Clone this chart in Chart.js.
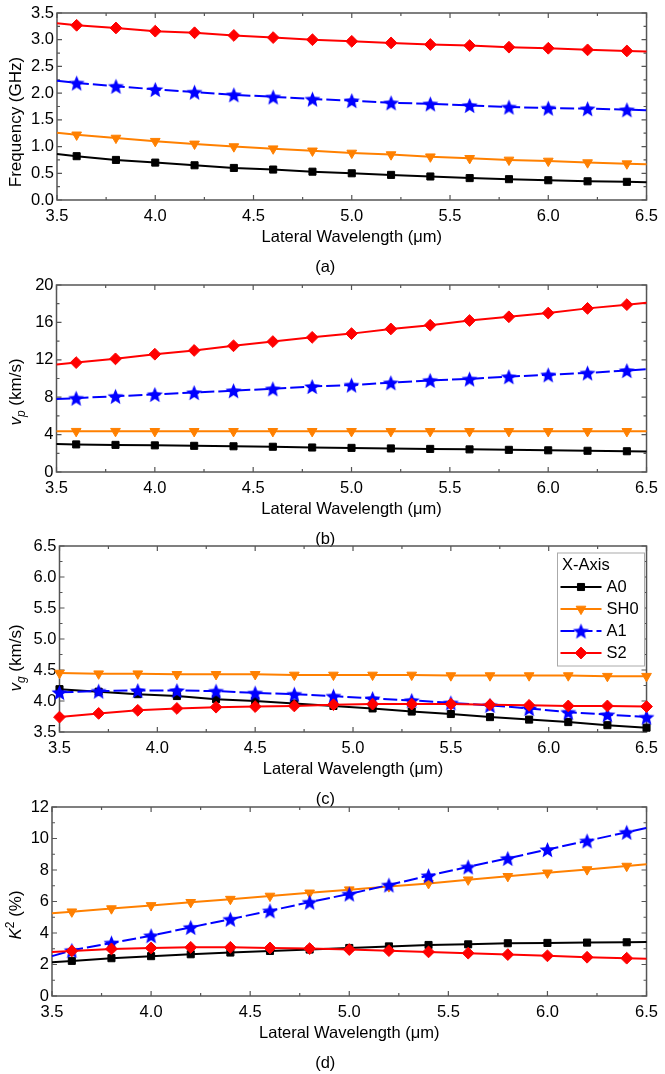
<!DOCTYPE html>
<html><head><meta charset="utf-8">
<script src="https://cdn.jsdelivr.net/npm/chart.js@4.4.1/dist/chart.umd.min.js"></script>
<style>
html,body{margin:0;padding:0;background:#fff;}
body{width:665px;height:1074px;position:relative;overflow:hidden;}
canvas{position:absolute;left:0;}
</style></head><body>
<canvas id="cA"></canvas>
<canvas id="cB"></canvas>
<canvas id="cC"></canvas>
<canvas id="cD"></canvas>
<script>
// ---------------- DATA ----------------
const seriesNames = ['A0', 'SH0', 'A1', 'S2'];
const xMain = [3.5, 3.6, 3.8, 4.0, 4.2, 4.4, 4.6, 4.8, 5.0, 5.2, 5.4, 5.6, 5.8, 6.0, 6.2, 6.4, 6.5];
const xVg   = [3.5, 3.7, 3.9, 4.1, 4.3, 4.5, 4.7, 4.9, 5.1, 5.3, 5.5, 5.7, 5.9, 6.1, 6.3, 6.5];

// (a) Frequency (GHz)
const freqA0  = [0.86, 0.82, 0.75, 0.70, 0.65, 0.60, 0.57, 0.53, 0.50, 0.47, 0.44, 0.41, 0.39, 0.37, 0.35, 0.34, 0.33];
const freqSH0 = [1.26, 1.22, 1.16, 1.10, 1.05, 1.00, 0.96, 0.92, 0.88, 0.85, 0.81, 0.78, 0.75, 0.73, 0.70, 0.68, 0.67];
const freqA1  = [2.23, 2.19, 2.13, 2.07, 2.02, 1.97, 1.93, 1.89, 1.86, 1.82, 1.80, 1.77, 1.74, 1.72, 1.71, 1.69, 1.68];
const freqS2  = [3.31, 3.27, 3.22, 3.16, 3.13, 3.08, 3.04, 3.00, 2.97, 2.94, 2.91, 2.89, 2.86, 2.84, 2.81, 2.79, 2.78];

// (b) Phase velocity (km/s)
const vpA0  = [3.00, 2.95, 2.90, 2.85, 2.80, 2.75, 2.70, 2.62, 2.58, 2.52, 2.47, 2.42, 2.37, 2.32, 2.27, 2.22, 2.20];
const vpSH0 = [4.36, 4.36, 4.36, 4.35, 4.35, 4.35, 4.35, 4.35, 4.35, 4.35, 4.35, 4.35, 4.35, 4.35, 4.35, 4.35, 4.35];
const vpA1  = [7.80, 7.90, 8.10, 8.30, 8.50, 8.70, 8.90, 9.15, 9.30, 9.55, 9.80, 9.95, 10.2, 10.4, 10.6, 10.85, 11.0];
const vpS2  = [11.5, 11.7, 12.1, 12.6, 13.0, 13.5, 13.95, 14.4, 14.8, 15.3, 15.7, 16.2, 16.6, 17.0, 17.5, 17.9, 18.1];

// (c) Group velocity (km/s)
const vgA0  = [4.19, 4.15, 4.11, 4.08, 4.03, 4.00, 3.96, 3.92, 3.88, 3.83, 3.79, 3.74, 3.70, 3.66, 3.61, 3.57];
const vgSH0 = [4.45, 4.44, 4.44, 4.43, 4.43, 4.43, 4.42, 4.42, 4.42, 4.42, 4.41, 4.41, 4.41, 4.41, 4.40, 4.40];
const vgA1  = [4.14, 4.16, 4.17, 4.17, 4.16, 4.13, 4.11, 4.08, 4.04, 4.01, 3.97, 3.93, 3.88, 3.82, 3.78, 3.74];
const vgS2  = [3.74, 3.80, 3.85, 3.88, 3.90, 3.91, 3.92, 3.94, 3.95, 3.95, 3.95, 3.94, 3.93, 3.92, 3.92, 3.91];

// (d) K^2 (%)
const k2A0  = [2.15, 2.23, 2.40, 2.53, 2.65, 2.76, 2.86, 2.95, 3.05, 3.15, 3.24, 3.28, 3.35, 3.37, 3.39, 3.41, 3.43];
const k2SH0 = [5.26, 5.35, 5.55, 5.75, 5.95, 6.15, 6.35, 6.55, 6.75, 6.95, 7.15, 7.38, 7.60, 7.82, 8.03, 8.25, 8.36];
const k2A1  = [2.53, 2.90, 3.37, 3.83, 4.36, 4.88, 5.41, 5.96, 6.48, 7.05, 7.64, 8.20, 8.74, 9.30, 9.85, 10.4, 10.67];
const k2S2  = [2.80, 2.86, 2.99, 3.05, 3.09, 3.09, 3.05, 3.01, 2.95, 2.88, 2.80, 2.72, 2.63, 2.55, 2.46, 2.40, 2.36];

// Axis ranges / ticks
const xRange = [3.5, 6.5], xStep = 0.5;
const yFreqRange = [0, 3.5], yFreqStep = 0.5;
const yVpRange = [0, 20], yVpStep = 4;
const yVgRange = [3.5, 6.5], yVgStep = 0.5;
const yK2Range = [0, 12], yK2Step = 2;
const xTitle = 'Lateral Wavelength (\u03bcm)';
const panelLabels = ['(a)', '(b)', '(c)', '(d)'];
const legendTitle = 'X-Axis';

// ---------------- STYLES ----------------
const FONT = '"Liberation Sans", Arial, Helvetica, sans-serif';
const TXT = 16.5;
function starImage(color, R) {
  const size = Math.ceil(R * 2 + 2);
  const c = document.createElement('canvas');
  c.width = c.height = size;
  const g = c.getContext('2d');
  g.beginPath();
  for (let i = 0; i < 10; i++) {
    const r = i % 2 ? R * 0.44 : R;
    const a = -Math.PI / 2 + i * Math.PI / 5;
    const px = size / 2 + r * Math.cos(a), py = size / 2 + r * Math.sin(a) + R * 0.1;
    if (i) g.lineTo(px, py); else g.moveTo(px, py);
  }
  g.closePath(); g.fillStyle = color; g.fill();
  return c;
}
const STAR = starImage('#0000FF', 8.4);
const seriesStyle = {
  A0:  {color: '#000000', pointStyle: 'rect', radius: 5, rotation: 0, dash: [], order: 4},
  SH0: {color: '#FF8000', pointStyle: 'triangle', radius: 5.6, rotation: 180, dash: [], order: 3},
  A1:  {color: '#0000FF', pointStyle: STAR, radius: 7, rotation: 0, dash: [14, 4], order: 2},
  S2:  {color: '#FF0000', pointStyle: 'rectRot', radius: 5.9, rotation: 0, dash: [], order: 1}
};

function makeDataset(name, xs, ys, hideEnds) {
  const s = seriesStyle[name];
  return {
    label: name,
    data: xs.map((x, i) => ({x: x, y: ys[i]})),
    borderColor: s.color,
    backgroundColor: s.color,
    borderWidth: 2,
    borderDash: s.dash,
    pointStyle: s.pointStyle,
    pointRotation: s.rotation,
    pointRadius: ctx => (hideEnds && ctx.raw && (ctx.raw.x === xRange[0] || ctx.raw.x === xRange[1])) ? 0 : s.radius,
    pointBorderWidth: 1,
    pointBorderColor: s.color,
    pointBackgroundColor: s.color,
    tension: 0,
    clip: false,
    order: s.order
  };
}

// ---------------- PLUGINS ----------------
const framePlugin = {
  id: 'frame',
  beforeDatasetsDraw(chart) {
    const {ctx, chartArea: a, scales: {x, y}} = chart;
    const mid = arr => arr.slice(1).map((v, i) => (v + arr[i]) / 2);
    const xs = x.ticks.map(t => t.value), ys = y.ticks.map(t => t.value);
    ctx.save();
    ctx.strokeStyle = '#555';
    ctx.lineWidth = 1.2;
    ctx.beginPath();
    const hx = (v, len) => { const p = x.getPixelForValue(v); ctx.moveTo(p, a.bottom); ctx.lineTo(p, a.bottom - len); ctx.moveTo(p, a.top); ctx.lineTo(p, a.top + len); };
    const vy = (v, len) => { const p = y.getPixelForValue(v); ctx.moveTo(a.left, p); ctx.lineTo(a.left + len, p); ctx.moveTo(a.right, p); ctx.lineTo(a.right - len, p); };
    xs.forEach(v => hx(v, 5)); mid(xs).forEach(v => hx(v, 3));
    ys.forEach(v => vy(v, 5)); mid(ys).forEach(v => vy(v, 3));
    ctx.stroke();
    ctx.lineWidth = 1.5;
    ctx.strokeRect(a.left, a.top, a.right - a.left, a.bottom - a.top);
    ctx.restore();
  },
  afterDraw(chart, args, opts) {
    const {ctx} = chart;
    const parts = opts.yTitle;
    if (!parts) return;
    ctx.save();
    ctx.translate(opts.yTitleX, opts.yTitleY);
    ctx.rotate(-Math.PI / 2);
    ctx.fillStyle = '#000';
    ctx.textBaseline = 'alphabetic';
    ctx.textAlign = 'left';
    const fontOf = p => (p.italic ? 'italic ' : '') + (p.small ? 12 : 17) + 'px ' + FONT;
    let total = 0;
    parts.forEach(p => { ctx.font = fontOf(p); p.w = ctx.measureText(p.t).width; total += p.w; });
    let xp = -total / 2;
    parts.forEach(p => {
      ctx.font = fontOf(p);
      const dy = p.sub ? 4 : (p.sup ? -7 : 0);
      ctx.fillText(p.t, xp, dy);
      xp += p.w;
    });
    ctx.restore();
  },
  afterDatasetsDraw(chart, args, opts) {
    if (!opts.legend) return;
    const L = opts.legend;
    const {ctx} = chart;
    ctx.save();
    ctx.fillStyle = '#fff';
    ctx.fillRect(L.left, L.top, L.width, L.height);
    ctx.strokeStyle = '#aaa';
    ctx.lineWidth = 1;
    ctx.strokeRect(L.left, L.top, L.width, L.height);
    ctx.fillStyle = '#000';
    ctx.font = TXT + 'px ' + FONT;
    ctx.textBaseline = 'middle';
    ctx.textAlign = 'left';
    ctx.fillText(legendTitle, L.left + 4.5, L.titleY);
    seriesNames.forEach((name, i) => {
      const s = seriesStyle[name];
      const yy = L.rowY0 + i * L.rowGap;
      ctx.save();
      ctx.strokeStyle = s.color; ctx.lineWidth = 2; ctx.setLineDash(s.dash);
      ctx.beginPath(); ctx.moveTo(L.left + 3, yy); ctx.lineTo(L.left + 44, yy); ctx.stroke();
      ctx.restore();
      ctx.save();
      ctx.fillStyle = s.color; ctx.strokeStyle = s.color; ctx.lineWidth = 1;
      Chart.helpers.drawPoint(ctx, {pointStyle: s.pointStyle, rotation: s.rotation, radius: s.radius, borderWidth: 1}, L.left + 23.5, yy);
      ctx.restore();
      ctx.fillStyle = '#000';
      ctx.font = TXT + 'px ' + FONT;
      ctx.fillText(name, L.left + 49, yy);
    });
    ctx.restore();
  }
};

// ---------------- PANELS ----------------
function makePanel(id, p) {
  const canvasTop = p.chartTop - 20;
  const xAxisH = 50;
  const titleLH = TXT * 1.2, titlePadTop = 8;
  const h = Math.ceil(p.chartBottom - canvasTop + xAxisH + titleLH + titlePadTop + 3);
  const padBottom = h - (p.chartBottom - canvasTop) - xAxisH - titleLH - titlePadTop;
  const cv = document.getElementById(id);
  cv.width = 665; cv.height = h;
  cv.style.top = canvasTop + 'px';
  cv.style.width = '665px'; cv.style.height = h + 'px';
  let legend = null;
  if (p.legend) {
    const l = p.legend;
    legend = {left: l.left, top: l.top - canvasTop, width: l.width, height: l.height,
      titleY: l.titleY - canvasTop, rowY0: l.rowY0 - canvasTop, rowGap: l.rowGap};
  }
  return new Chart(cv, {
    type: 'line',
    data: {datasets: p.datasets},
    options: {
      responsive: false,
      animation: false,
      devicePixelRatio: 1,
      layout: {padding: {left: 0, right: 665 - p.right, top: 20, bottom: padBottom}},
      plugins: {
        legend: {display: false},
        tooltip: {enabled: false},
        title: {display: true, position: 'bottom', text: p.label, color: '#000',
          font: {size: TXT, family: FONT, weight: 'normal', lineHeight: 1.2},
          padding: {top: titlePadTop, bottom: 0}},
        frame: {yTitle: p.yTitle, yTitleX: 21, yTitleY: p.yTitleCenter - canvasTop, legend: legend}
      },
      scales: {
        x: {
          type: 'linear', min: xRange[0], max: xRange[1],
          grid: {display: false, drawTicks: false}, border: {display: false},
          ticks: {stepSize: xStep, padding: 7, color: '#000', maxRotation: 0, autoSkip: false,
            font: {size: TXT, family: FONT}, callback: v => Number(v).toFixed(1)},
          title: {display: true, text: xTitle, color: '#000', font: {size: TXT, family: FONT},
            padding: {top: 0, bottom: 2.8}},
          afterFit: s => { s.height = xAxisH; }
        },
        y: {
          type: 'linear', min: p.yRange[0], max: p.yRange[1],
          grid: {display: false, drawTicks: false}, border: {display: false},
          ticks: {stepSize: p.yStep, padding: 3, color: '#000', font: {size: TXT, family: FONT},
            callback: p.yFmt},
          afterFit: s => { s.width = p.left; }
        }
      }
    },
    plugins: [framePlugin]
  });
}

const fmt1 = v => Number(v).toFixed(1);
const fmt0 = v => Number(v).toFixed(0);

makePanel('cA', {
  chartTop: 13, chartBottom: 200, left: 57, right: 650.5, label: panelLabels[0],
  yRange: yFreqRange, yStep: yFreqStep, yFmt: fmt1, yTitleCenter: 122,
  yTitle: [{t: 'Frequency (GHz)'}],
  datasets: [makeDataset('A0', xMain, freqA0, true), makeDataset('SH0', xMain, freqSH0, true),
             makeDataset('A1', xMain, freqA1, true), makeDataset('S2', xMain, freqS2, true)]
});
makePanel('cB', {
  chartTop: 285, chartBottom: 472, left: 56.5, right: 650.5, label: panelLabels[1],
  yRange: yVpRange, yStep: yVpStep, yFmt: fmt0, yTitleCenter: 392,
  yTitle: [{t: 'v', italic: true}, {t: 'p', italic: true, small: true, sub: true}, {t: ' (km/s)'}],
  datasets: [makeDataset('A0', xMain, vpA0, true), makeDataset('SH0', xMain, vpSH0, true),
             makeDataset('A1', xMain, vpA1, true), makeDataset('S2', xMain, vpS2, true)]
});
makePanel('cC', {
  chartTop: 546, chartBottom: 732, left: 59.5, right: 650.5, label: panelLabels[2],
  yRange: yVgRange, yStep: yVgStep, yFmt: fmt1, yTitleCenter: 658,
  yTitle: [{t: 'v', italic: true}, {t: 'g', italic: true, small: true, sub: true}, {t: ' (km/s)'}],
  legend: {left: 557.5, top: 553, width: 87, height: 113, titleY: 565.5, rowY0: 587, rowGap: 22},
  datasets: [makeDataset('A0', xVg, vgA0, false), makeDataset('SH0', xVg, vgSH0, false),
             makeDataset('A1', xVg, vgA1, false), makeDataset('S2', xVg, vgS2, false)]
});
makePanel('cD', {
  chartTop: 807, chartBottom: 996, left: 52, right: 650.5, label: panelLabels[3],
  yRange: yK2Range, yStep: yK2Step, yFmt: fmt0, yTitleCenter: 915,
  yTitle: [{t: 'K', italic: true}, {t: '2', small: true, sup: true}, {t: ' (%)'}],
  datasets: [makeDataset('A0', xMain, k2A0, true), makeDataset('SH0', xMain, k2SH0, true),
             makeDataset('A1', xMain, k2A1, true), makeDataset('S2', xMain, k2S2, true)]
});
</script>
</body></html>
